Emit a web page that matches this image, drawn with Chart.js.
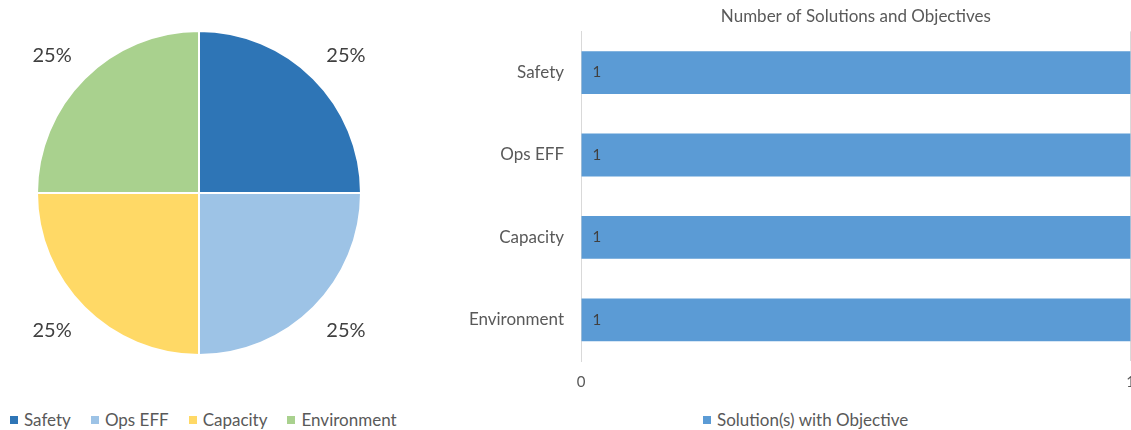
<!DOCTYPE html>
<html>
<head>
<meta charset="utf-8">
<script src="https://cdn.jsdelivr.net/npm/chart.js@4.4.1/dist/chart.umd.min.js"></script>
<style>
  html, body { margin: 0; padding: 0; background: #fff; overflow: hidden; width: 1131px; height: 430px; }
  .box { position: absolute; }
  .legend { position: absolute; display: flex; align-items: center; font-family: Lato, sans-serif; font-size: 17px; color: #595959; white-space: nowrap; }
  .legend .item { display: flex; align-items: center; margin-right: 20px; }
  .legend .mark { width: 8px; height: 8px; margin-right: 6px; }
</style>
</head>
<body>
<div class="box" style="left:0;top:0;width:398px;height:386px"><canvas id="pie" width="398" height="386"></canvas></div>
<div class="legend" id="pieLegend" style="left:10px;top:409px"></div>
<div class="box" style="left:440px;top:0;width:707px;height:400px"><canvas id="bars" width="707" height="400"></canvas></div>
<div class="legend" id="barLegend" style="left:703px;top:409px"></div>
<script>
const categories = ['Safety', 'Ops EFF', 'Capacity', 'Environment'];
const pieValues = [1, 1, 1, 1];
const pieColors = ['#2E75B6', '#9DC3E6', '#FFD966', '#A9D18E'];
const barValues = [1, 1, 1, 1];
const barLabel = 'Solution(s) with Objective';
const barColor = '#5B9BD5';
const xTicks = [0, 1];
const chartTitle = 'Number of Solutions and Objectives';

const FONT = 'Lato, sans-serif';
const GREY = '#595959';

// percentages just outside each slice, text box corner kept off the rim
const pieLabels = {
  id: 'pieLabels',
  afterDatasetsDraw(chart) {
    const ctx = chart.ctx;
    const data = chart.data.datasets[0].data;
    const total = data.reduce((a, b) => a + b, 0);
    ctx.save();
    ctx.font = '20px ' + FONT;
    ctx.fillStyle = '#404040';
    ctx.textAlign = 'center';
    ctx.textBaseline = 'middle';
    chart.getDatasetMeta(0).data.forEach((arc, i) => {
      const mid = (arc.startAngle + arc.endAngle) / 2;
      const r = arc.outerRadius + 18;
      const pct = Math.round(data[i] / total * 100) + '%';
      const w = ctx.measureText(pct).width;
      const cx = Math.cos(mid), cy = Math.sin(mid);
      const x = arc.x + cx * r + Math.sign(cx) * w / 2;
      const y = arc.y + cy * r + Math.sign(cy) * 10;
      ctx.fillText(pct, x, y);
    });
    ctx.restore();
  }
};

// value written inside the base of each bar
const barValueLabels = {
  id: 'barValueLabels',
  afterDatasetsDraw(chart) {
    const ctx = chart.ctx;
    const data = chart.data.datasets[0].data;
    ctx.save();
    ctx.font = '15px ' + FONT;
    ctx.fillStyle = '#404040';
    ctx.textAlign = 'left';
    ctx.textBaseline = 'middle';
    chart.getDatasetMeta(0).data.forEach((bar, i) => {
      ctx.fillText(String(data[i]), bar.base + 11, bar.y);
    });
    ctx.restore();
  }
};

function htmlLegend(chart, el) {
  const items = chart.options.plugins.legend.labels.generateLabels(chart);
  items.forEach(it => {
    const d = document.createElement('span');
    d.className = 'item';
    const m = document.createElement('span');
    m.className = 'mark';
    m.style.background = it.fillStyle;
    d.appendChild(m);
    d.appendChild(document.createTextNode(it.text));
    el.appendChild(d);
  });
}

const pie = new Chart(document.getElementById('pie'), {
  type: 'pie',
  data: {
    labels: categories,
    datasets: [{
      data: pieValues,
      backgroundColor: pieColors,
      borderColor: '#ffffff',
      borderWidth: 2,
      radius: 162
    }]
  },
  options: {
    responsive: false,
    animation: false,
    devicePixelRatio: 1,
    plugins: { legend: { display: false }, tooltip: { enabled: false } }
  },
  plugins: [pieLabels]
});
htmlLegend(pie, document.getElementById('pieLegend'));

const bars = new Chart(document.getElementById('bars'), {
  type: 'bar',
  data: {
    labels: categories,
    datasets: [{
      label: barLabel,
      data: barValues,
      backgroundColor: barColor,
      categoryPercentage: 1,
      barPercentage: 0.52
    }]
  },
  options: {
    indexAxis: 'y',
    responsive: false,
    animation: false,
    devicePixelRatio: 1,
    layout: { padding: 0 },
    plugins: {
      legend: { display: false },
      tooltip: { enabled: false },
      title: {
        display: true,
        text: chartTitle,
        fullSize: false,
        color: GREY,
        font: { family: FONT, size: 17, weight: 'normal' },
        padding: { top: 6, bottom: 5 }
      }
    },
    scales: {
      x: {
        min: xTicks[0],
        max: xTicks[xTicks.length - 1],
        afterBuildTicks(scale) { scale.ticks = xTicks.map(v => ({ value: v })); },
        afterFit(scale) { scale.height = 39; },
        grid: { color: '#d9d9d9', drawTicks: false },
        border: { display: false },
        ticks: { color: GREY, padding: 12, font: { family: FONT, size: 15 } }
      },
      y: {
        afterFit(scale) { scale.width = 141; },
        grid: { display: false },
        border: { display: true, color: '#d9d9d9', width: 1 },
        ticks: { color: GREY, padding: 9, font: { family: FONT, size: 17 } }
      }
    }
  },
  plugins: [barValueLabels]
});
htmlLegend(bars, document.getElementById('barLegend'));
</script>
</body>
</html>
